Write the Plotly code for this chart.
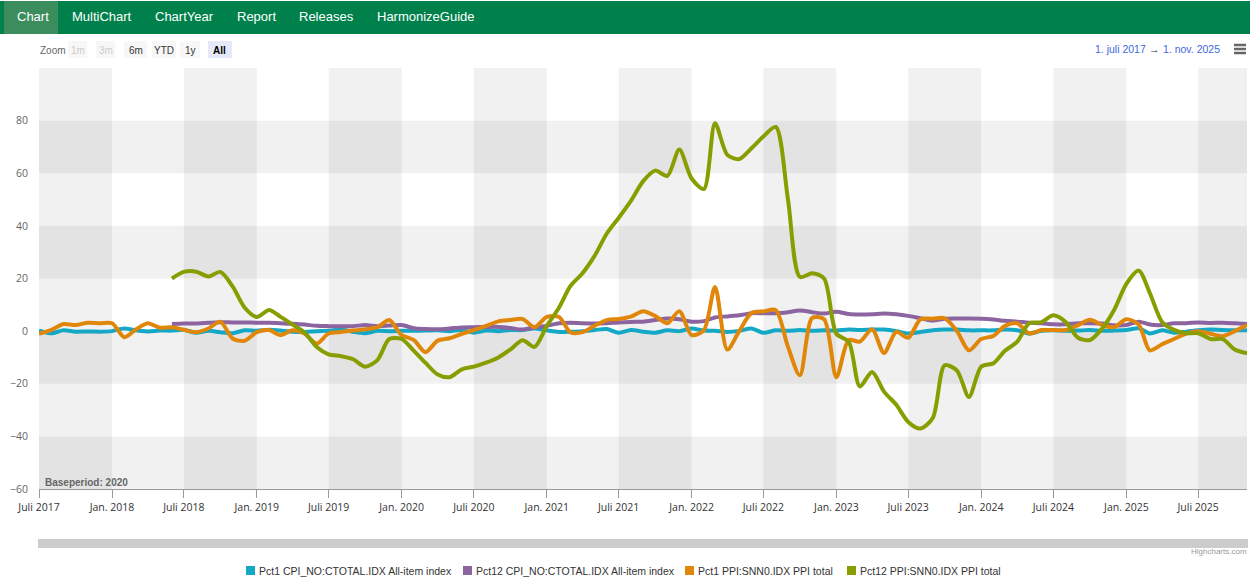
import pandas as pd
import plotly.graph_objects as go

# monthly observations, juli 2017 -> nov. 2025
months = pd.date_range("2017-07-01", "2025-11-01", freq="MS")
months_12 = months[11:]  # 12-month series start june 2018

pct1_cpi = [0.2, -0.8, 0.3, -0.2, -0.1, -0.2, 0.0, 1.0, 0.3, -0.1,
            0.2, 0.2, 0.5, -0.6, 0.1, -0.4, -0.8, 0.3, 0.1, 0.5,
            0.2, -0.2, -0.3, 0.0, 0.1, 0.6, -0.3, -0.8, 0.1, 0.0,
            0.1, 0.1, 0.2, 0.3, 0.0, 0.4, -0.6, 0.2, 0.0, 0.4,
            0.4, 1.0, 0.3, -0.3, -0.2, 0.0, 0.4, 0.8, -0.6, 0.4,
            -0.2, -0.6, 0.3, 0.0, 1.0, 0.2, 0.1, -0.3, 0.1, 1.0,
            -0.6, 0.3, 0.1, 0.4, 0.1, 0.3, 0.2, 0.6, 0.4, 0.6,
            0.6, 0.0, -0.9, -0.3, 0.3, 0.6, 0.6, 0.3, 0.3, 0.3,
            0.6, 0.3, -0.9, 0.1, 0.3, 0.1, 0.2, 0.4, 0.1, 0.2,
            0.4, 1.1, -0.9, 0.3, -0.6, -0.2, 0.3, 0.6, 0.4, 0.3,
            0.3]

pct12_cpi = [2.7, 2.9, 2.9, 3.2, 3.4, 3.3, 3.3, 3.2, 3.2, 3.0,
             2.8, 2.5, 2.0, 1.9, 1.9, 1.9, 2.3, 1.9, 2.1, 2.3,
             1.1, 0.8, 0.7, 1.0, 1.4, 1.5, 1.6, 1.6, 1.2, 0.6,
             1.4, 2.0, 3.0, 3.2, 3.0, 2.9, 3.0, 3.3, 3.5, 3.6,
             4.2, 4.8, 4.5, 3.6, 3.8, 5.2, 5.6, 6.0, 6.8, 6.8,
             6.8, 7.2, 7.8, 7.2, 6.7, 7.4, 6.5, 6.3, 6.4, 6.7,
             6.4, 5.8, 4.9, 4.0, 4.7, 4.8, 4.8, 4.7, 4.4, 3.9,
             3.6, 3.2, 3.0, 2.6, 2.6, 3.0, 3.0, 2.9, 2.2, 2.3,
             3.6, 2.5, 2.3, 3.0, 3.0, 3.3, 3.1, 3.2, 3.0, 2.7]

pct1_ppi = [-1.0, 0.5, 2.7, 2.3, 3.2, 3.0, 3.0, -2.3, 0.5, 3.0,
            1.3, 1.5, 0.5, -0.4, 1.0, 3.6, -2.8, -3.7, -0.4, 0.4,
            -1.5, 0.3, -0.9, -4.7, -0.9, -0.3, 0.2, 0.7, 1.5, 4.2,
            -1.5, -3.4, -8.0, -3.6, -2.7, -1.0, 0.4, 2.0, 3.7, 4.2,
            4.6, 1.5, 5.4, 5.4, -0.4, -0.4, 2.0, 4.2, 4.6, 5.5,
            7.6, 5.8, 3.0, 7.6, -1.5, 0.4, 16.8, -7.0, 0.0, 6.9,
            7.5, 8.0, -6.0, -16.8, 5.0, 4.5, -17.5, -3.4, -4.0, 0.7,
            -8.3, -0.3, -2.5, 4.5, 4.7, 4.9, 0.0, -7.3, -3.0, -1.8,
            2.0, 3.0, -0.9, 0.4, 0.4, 0.4, 2.3, 4.3, 2.3, 1.5,
            4.5, 2.5, -7.3, -5.0, -3.0, -0.9, 0.0, -1.0, -1.9, 0.0,
            2.3]

pct12_ppi = [20.0, 22.5, 22.6, 20.8, 22.5, 17.0, 9.0, 5.4, 8.0, 5.5,
             2.5, -0.5, -6.0, -8.8, -9.5, -10.7, -13.5, -11.0, -3.0, -3.0,
             -7.5, -12.0, -16.5, -17.5, -14.5, -13.5, -12.0, -10.0, -7.0, -3.5,
             -6.0, 2.0, 9.0, 17.0, 22.0, 28.5, 37.0, 43.0, 49.5, 57.0,
             61.0, 59.0, 69.0, 58.0, 54.0, 79.0, 67.0, 65.4, 69.5, 74.0,
             77.6, 50.0, 20.6, 22.0, 20.0, -1.0, -4.0, -21.0, -15.5, -23.0,
             -28.0, -34.5, -37.0, -33.0, -13.0, -15.0, -25.0, -13.5, -12.2, -7.5,
             -4.0, 3.0, 3.4, 6.0, 3.5, -2.5, -3.4, 1.0, 8.0, 18.0,
             23.0, 14.5, 3.5, 0.5, -0.8, -0.8, -3.0, -3.0, -7.0, -8.4]

series_names = ["Pct1 CPI_NO:CTOTAL.IDX All-item index",
                "Pct12 CPI_NO:CTOTAL.IDX All-item index",
                "Pct1 PPI:SNN0.IDX PPI total",
                "Pct12 PPI:SNN0.IDX PPI total"]
colors = ["#14a8c6", "#8c64a0", "#e0870a", "#889e00"]

tick_dates = pd.date_range("2017-07-01", "2025-07-01", freq="6MS")
tick_text = [("Jan. " if d.month == 1 else "Juli ") + str(d.year) for d in tick_dates]

nav_items = ["Chart", "MultiChart", "ChartYear", "Report", "Releases", "HarmonizeGuide"]
zoom_buttons = ["1m", "3m", "6m", "YTD", "1y", "All"]

# plot area in pixels: x 39..1247, y 68..489
L, T, W, H = 39, 68, 1208, 421
def px(x):
        return (x - L) / W
def py(y):
        return (T + H - y) / H

FONT = "Liberation Sans, Arial"

fig = go.Figure()

xs = [months, months_12, months, months_12]
ys = [pct1_cpi, pct12_cpi, pct1_ppi, pct12_ppi]
for i in range(4):
        fig.add_trace(go.Scatter(x=xs[i], y=ys[i], mode="lines", name=series_names[i],
                                 line=dict(color=colors[i], width=4, shape="spline", smoothing=0.8),
                                 showlegend=False))

shapes = []
band = "rgba(0,0,0,0.053)"
for yr in range(2017, 2026):
        x0 = pd.Timestamp(yr, 7, 1)
        x1 = min(pd.Timestamp(yr + 1, 1, 1), months[-1])
        shapes.append(dict(type="rect", xref="x", yref="paper", x0=x0, x1=x1, y0=0, y1=1,
                           fillcolor=band, line_width=0, layer="below"))
for lo in [60, 20, -20, -60]:
        shapes.append(dict(type="rect", xref="paper", yref="y", x0=0, x1=1, y0=lo, y1=lo + 20,
                           fillcolor=band, line_width=0, layer="below"))

def rect(x0, x1, y0, y1, color):
        return dict(type="rect", xref="paper", yref="paper", x0=px(x0), x1=px(x1), y0=py(y1), y1=py(y0),
                    fillcolor=color, line_width=0)

def label(text, x, y, size, color, anchor="left", bold=False):
        return dict(text="<b>" + text + "</b>" if bold else text, x=px(x), y=py(y), xref="paper", yref="paper",
                    xanchor=anchor, yanchor="middle", showarrow=False,
                    font=dict(color=color, size=size, family=FONT))

# nav bar
shapes.append(rect(0, 1250, 1, 34, "#00814b"))
shapes.append(rect(4, 58, 1, 34, "#3b8d5e"))
# zoom buttons
btn_x = [(68, 87), (96, 115), (124, 147), (152, 176), (180, 200), (208, 232)]
for i, (a, b) in enumerate(btn_x):
        shapes.append(rect(a, b, 41, 58, "#e6e9fa" if zoom_buttons[i] == "All" else "#f7f7f7"))
# hamburger
for yy in [45, 49, 53]:
        shapes.append(dict(type="line", xref="paper", yref="paper", x0=px(1234), x1=px(1246), y0=py(yy), y1=py(yy),
                           line=dict(color="#666666", width=2.5)))
# scrollbar
shapes.append(rect(38, 1248, 539, 548, "#cccccc"))

ann = []
nav_x = [15, 70, 153, 235, 297, 375]
for name, x in zip(nav_items, nav_x):
        ann.append(label(name, x, 16, 13, "white"))
ann.append(label("Zoom", 38, 50, 10, "#666666"))
for i, (a, b) in enumerate(btn_x):
        lab = zoom_buttons[i]
        col = "#cccccc" if lab in ("1m", "3m") else "#333333"
        ann.append(label(lab, (a + b) / 2, 50, 10, "#000000" if lab == "All" else col, "center", lab == "All"))
ann.append(label("1. juli 2017", 1120, 49, 10.5, "#4466dd", "center"))
ann.append(label("\u2192", 1154, 49, 10.5, "#333333", "center"))
ann.append(label("1. nov. 2025", 1191, 49, 10.5, "#4466dd", "center"))
ann.append(label("Baseperiod: 2020", 43, 482, 10, "#666666", bold=True))
ann.append(label("Highcharts.com", 1249, 551, 8, "#999999", "right"))

# legend, drawn like the highcharts one (square symbols)
leg_sq = [250, 467, 689, 851]
for i in range(4):
        shapes.append(rect(leg_sq[i] - 4, leg_sq[i] + 5, 566, 575, colors[i]))
        ann.append(label(series_names[i], leg_sq[i] + 7, 570.5, 10.5, "#333333"))

fig.update_layout(
        width=1250, height=578, autosize=False,
        margin=dict(l=L, r=1250 - L - W, t=T, b=578 - T - H),
        paper_bgcolor="white", plot_bgcolor="white",
        font=dict(family="Open Sans, Liberation Sans", color="#666666"),
        shapes=shapes, annotations=ann,
        showlegend=False,
        xaxis=dict(range=[months[0], months[-1]], tickvals=tick_dates, ticktext=tick_text,
                   ticks="outside", ticklen=8, tickcolor="#999999", showline=True, linecolor="#999999",
                   linewidth=1, showgrid=False, zeroline=False, ticklabelstandoff=0,
                   tickfont=dict(size=10.5, color="#333333")),
        yaxis=dict(range=[-60, 100], tickvals=[-60, -40, -20, 0, 20, 40, 60, 80],
                   showgrid=False, zeroline=False, showline=False, ticks="", ticklabelstandoff=10,
                   tickfont=dict(size=10.5, color="#666666")),
)

fig.write_html("out.html", config={"displayModeBar": False},
               post_script="document.body.style.margin='0';")
